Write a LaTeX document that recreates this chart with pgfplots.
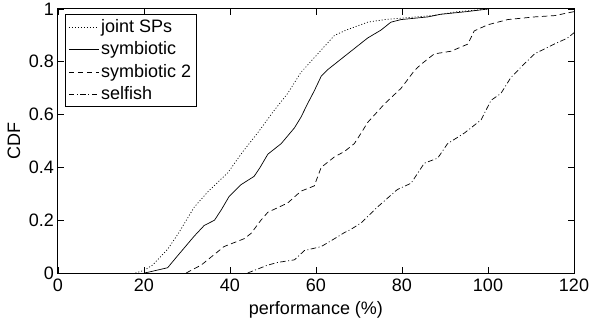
\documentclass[border=0pt]{standalone}
\usepackage{fontspec}
\setmainfont{Liberation Sans}
\usepackage{pgfplots}
\pgfplotsset{compat=1.18}
\begin{document}
\fontsize{18pt}{21pt}\selectfont
\begin{tikzpicture}
\begin{axis}[
  anchor=south west, at={(0pt,0pt)},
  scale only axis, width=516pt, height=264pt,
  xmin=0, xmax=120, ymin=0, ymax=1,
  xtick={0,20,40,60,80,100,120},
  ytick={0,0.2,0.4,0.6,0.8,1},
  yticklabels={0,0.2,0.4,0.6,0.8,1},
  tick align=inside, major tick length=6pt,
  tick style={black, line width=0.6pt},
  axis line style={line width=1pt},
  xlabel={performance (\%)}, ylabel={CDF},
  /pgf/number format/assume math mode=true,
  tick label style={font=\fontsize{18pt}{21pt}\selectfont},
  yticklabel style={xshift=2pt},
  label style={font=\fontsize{18pt}{21pt}\selectfont},
  xlabel style={at={(axis description cs:0.5,-0.159)}, anchor=base},
  ylabel style={at={(axis description cs:-0.0853,0.5)}, anchor=center},
  legend style={at={(axis description cs:0,1)}, anchor=north west, xshift=7pt, yshift=-5pt,
    draw=black, line width=1pt, font=\fontsize{18pt}{21pt}\selectfont,
    inner xsep=3pt, inner ysep=3pt, row sep=2.5pt},
  legend cell align=left,
  legend image code/.code={\draw[#1, line width=0.6pt] (0pt,0pt) -- (30pt,0pt);},
  every axis plot/.append style={line width=0.7pt, black},
]
\addplot[dash pattern=on 1pt off 2pt] coordinates {
(18,0) (20,0.01) (22,0.03) (25.5,0.09) (28,0.15) (31.7,0.25) (35,0.31) (39.5,0.38)
(43,0.46) (46.4,0.53) (50,0.61) (53.4,0.68) (56.5,0.76) (60.4,0.83) (64.3,0.90)
(67,0.92) (72,0.95) (76,0.96) (79.8,0.965) (87,0.975) (93,0.99) (100,1)};
\addlegendentry{joint SPs}
\addplot[solid] coordinates {
(20,0) (21,0.003) (25.5,0.02) (27.8,0.065) (31.7,0.14) (34,0.18) (36.4,0.20)
(38,0.24) (39.8,0.29) (42.6,0.335) (45.6,0.366) (47,0.40) (48.8,0.45) (51.9,0.49)
(55,0.55) (56.5,0.59) (58,0.64) (59.6,0.69) (61.2,0.745) (62.7,0.77) (65.8,0.81)
(68.9,0.85) (72,0.89) (75.1,0.92) (77.4,0.95) (79.8,0.96) (86,0.97) (89,0.98)
(95,0.99) (100,1)};
\addlegendentry{symbiotic}
\addplot[dash pattern=on 5.5pt off 3.5pt] coordinates {
(29.8,0) (33.3,0.03) (37.1,0.08) (38.6,0.10) (43.3,0.13) (44.9,0.15) (47.2,0.20)
(48.8,0.23) (53.4,0.265) (56.5,0.31) (59.6,0.33) (61.2,0.40) (64.3,0.44) (66.6,0.46)
(68.9,0.49) (70.5,0.53) (72,0.57) (75.9,0.64) (79.8,0.70) (82.9,0.767) (84.4,0.79)
(87.5,0.83) (91.4,0.84) (95.3,0.867) (96.8,0.917) (99.9,0.94) (104.6,0.96)
(110.8,0.97) (115.5,0.975) (120,0.99)};
\addlegendentry{symbiotic 2}
\addplot[dash pattern=on 5.5pt off 2.5pt on 1pt off 2.5pt] coordinates {
(44.1,0) (48.8,0.03) (51.1,0.04) (55,0.05) (57.3,0.085) (61.2,0.10) (64.3,0.13)
(66.6,0.153) (68.1,0.165) (70.5,0.19) (74.3,0.25) (78.9,0.316) (82.1,0.34)
(85.2,0.416) (88.3,0.435) (90.6,0.49) (94.5,0.53) (98.4,0.58) (100.7,0.654)
(103,0.68) (105.3,0.74) (107.7,0.78) (110.8,0.83) (115.4,0.867) (118.5,0.89) (120,0.91)};
\addlegendentry{selfish}
\end{axis}
\pgfresetboundingbox
\path (-58pt,-49pt) rectangle (532pt,273pt);
\end{tikzpicture}
\end{document}
